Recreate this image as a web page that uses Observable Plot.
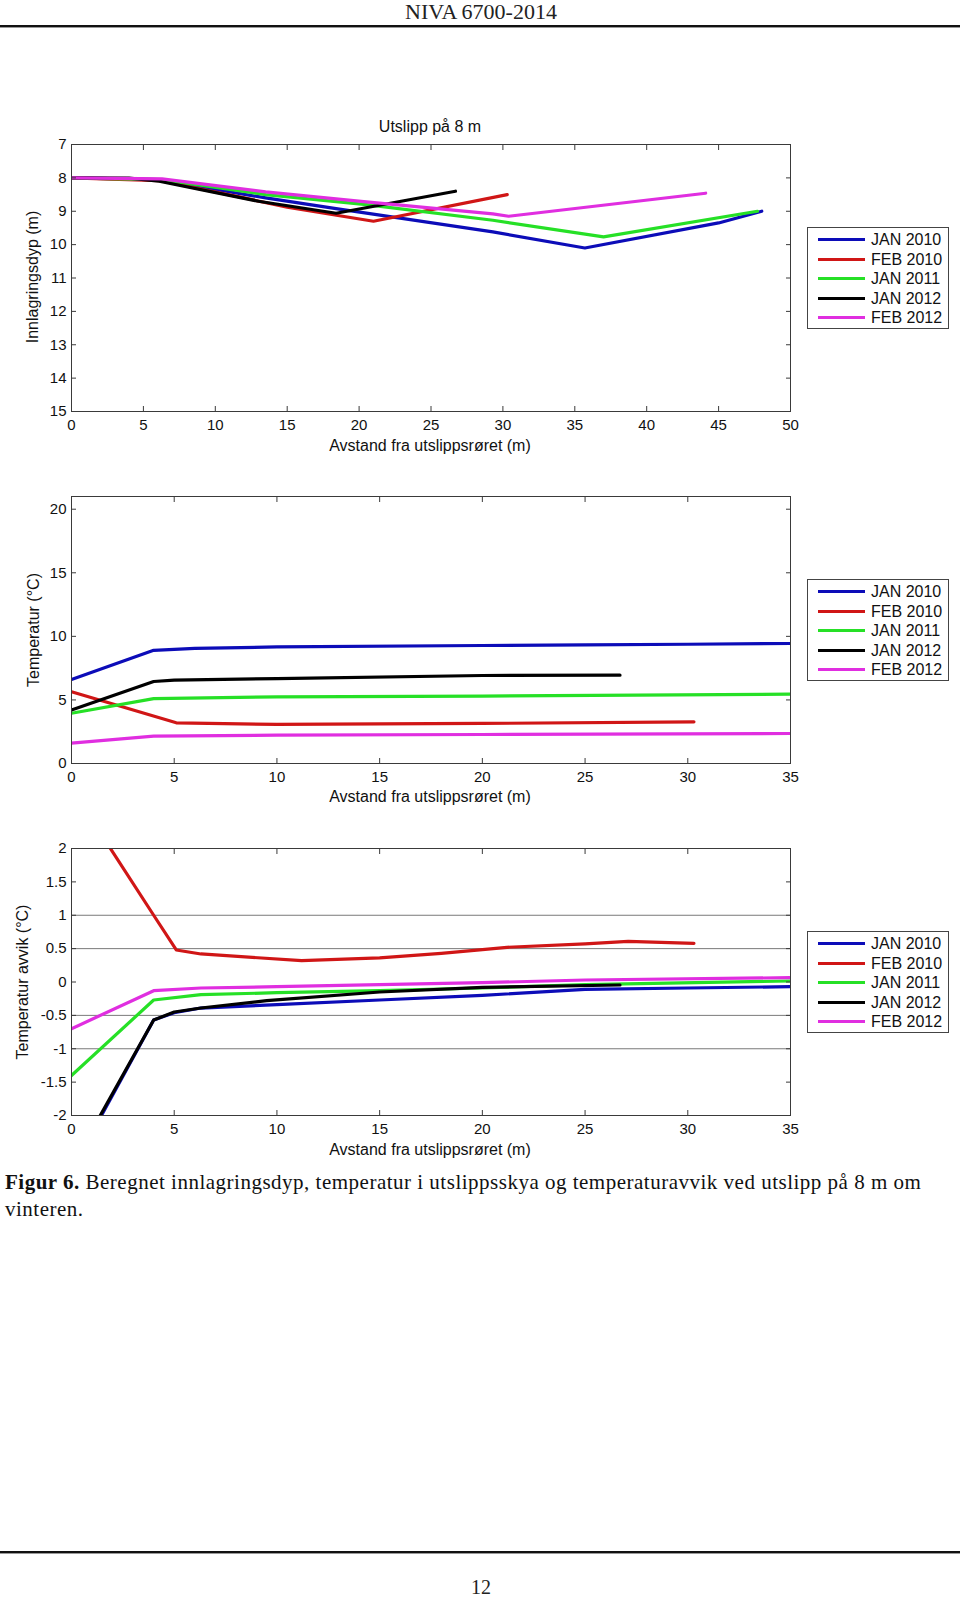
<!DOCTYPE html>
<html>
<head>
<meta charset="utf-8">
<script src="https://cdn.jsdelivr.net/npm/d3@7"></script>
<script src="https://cdn.jsdelivr.net/npm/@observablehq/plot@0.6"></script>
<style>
  html, body { margin: 0; padding: 0; background: #fff; }
  #page { position: relative; width: 960px; height: 1597px; background: #fff; overflow: hidden; }
  .abs { position: absolute; white-space: nowrap; }
  .sans { font-family: "Liberation Sans", Arial, sans-serif; color: #111; }
  .serif { font-family: "Liberation Serif", "Times New Roman", serif; color: #111; }
  .ctr { transform: translate(-50%, -50%); }
  .rot { transform: translate(-50%, -50%) rotate(-90deg); }
  .legend { position: absolute; width: 142px; height: 102px; box-sizing: border-box; border: 1px solid #444; background: #fff; }
  .legend .sw { position: absolute; left: 10px; width: 47px; height: 3px; }
  .legend .lb { position: absolute; left: 63px; font-family: "Liberation Sans", Arial, sans-serif; font-size: 16px; line-height: 19px; color: #111; white-space: nowrap; }
  .svgwrap { position: absolute; left: 0; }
</style>
</head>
<body>
<div id="page"></div>
<script>
// ---------- Data ----------
const seriesNames = ["JAN 2010", "FEB 2010", "JAN 2011", "JAN 2012", "FEB 2012"];
const seriesColors = ["#0c0cb8", "#d01616", "#26e026", "#000000", "#e02ee0"];

// Panel 1: innlagringsdyp (m) vs avstand (m)
const depthJan2010 = [[0, 8], [6, 8.05], [13.5, 8.6], [18.4, 8.92], [29.3, 9.62], [35.7, 10.1], [45, 9.35], [48, 9.0]];
const depthFeb2010 = [[0, 8], [6.1, 8.08], [12, 8.6], [15, 8.88], [21, 9.3], [30.3, 8.5]];
const depthJan2011 = [[0, 8], [6.3, 8.05], [13.5, 8.5], [20.5, 8.8], [29.3, 9.27], [37, 9.77], [47.7, 9.0]];
const depthJan2012 = [[0, 8], [4, 8.01], [6.1, 8.1], [13, 8.7], [18.4, 9.06], [26.7, 8.4]];
const depthFeb2012 = [[0, 8], [6.3, 8.03], [13.5, 8.42], [20.5, 8.72], [29.3, 9.08], [30.4, 9.15], [44.1, 8.46]];

// Panel 2: temperatur (°C) vs avstand (m)
const tempJan2010 = [[0, 6.6], [4, 8.9], [6, 9.05], [10, 9.17], [20, 9.28], [25, 9.33], [30, 9.38], [35, 9.44]];
const tempFeb2010 = [[0, 5.65], [5.1, 3.2], [10, 3.07], [20, 3.15], [30.3, 3.28]];
const tempJan2011 = [[0, 3.95], [4, 5.1], [10, 5.24], [20, 5.3], [35, 5.45]];
const tempJan2012 = [[0, 4.2], [4, 6.45], [5, 6.55], [10, 6.68], [20, 6.92], [26.7, 6.95]];
const tempFeb2012 = [[0, 1.6], [4, 2.15], [10, 2.23], [20, 2.28], [35, 2.36]];

// Panel 3: temperatur avvik (°C) vs avstand (m)
const devJan2010 = [[0, -2.82], [4, -0.57], [5, -0.46], [6.3, -0.39], [10, -0.34], [15, -0.27], [20, -0.2], [25, -0.11], [30, -0.09], [35, -0.07]];
const devFeb2010 = [[0, 2.9], [4, 1.0], [5.1, 0.48], [6.3, 0.42], [11.2, 0.32], [15, 0.36], [18, 0.43], [21.2, 0.52], [25, 0.57], [27.1, 0.61], [30.3, 0.58]];
const devJan2011 = [[0, -1.4], [4, -0.27], [6.3, -0.19], [10, -0.16], [15, -0.13], [20, -0.09], [25, -0.04], [35, 0.015]];
const devJan2012 = [[0, -2.77], [4, -0.57], [5, -0.45], [6.3, -0.39], [9.5, -0.28], [15, -0.15], [20, -0.08], [26.7, -0.045]];
const devFeb2012 = [[0, -0.7], [4, -0.13], [6.3, -0.09], [10, -0.07], [20, -0.01], [25, 0.03], [35, 0.065]];

// Ticks
const xTicks50 = [0, 5, 10, 15, 20, 25, 30, 35, 40, 45, 50];
const xTicks35 = [0, 5, 10, 15, 20, 25, 30, 35];
const yTicksDepth = [7, 8, 9, 10, 11, 12, 13, 14, 15];
const yTicksTemp = [0, 5, 10, 15, 20];
const yTicksDev = [-2, -1.5, -1, -0.5, 0, 0.5, 1, 1.5, 2];
const devGridLines = [-1, -0.5, 0.5, 1];

// Texts
const headerText = "NIVA 6700-2014";
const titleText = "Utslipp på 8 m";
const xLabelText = "Avstand fra utslippsrøret (m)";
const yLabelDepth = "Innlagringsdyp (m)";
const yLabelTemp = "Temperatur (°C)";
const yLabelDev = "Temperatur avvik (°C)";
const captionBold = "Figur 6.";
const captionLine1 = " Beregnet innlagringsdyp, temperatur i utslippsskya og temperaturavvik ved utslipp på 8 m om";
const captionLine2 = "vinteren.";
const pageNumber = "12";

// ---------- Layout ----------
const page = document.getElementById("page");
const W = 960, ML = 71, MR = 170, MT = 20, MB = 43, H = 330;
const axisColor = "#3a3a3a";

function addDiv(cls, text, style) {
  const d = document.createElement("div");
  d.className = cls;
  d.textContent = text;
  Object.assign(d.style, style);
  page.appendChild(d);
  return d;
}

function makePanel({frameTop, xDomain, yDomain, reverse, xTicks, yTicks, grid, data}) {
  const marks = [];
  if (grid) marks.push(Plot.ruleY(grid, {stroke: "#7a7a7a", strokeWidth: 1}));
  data.forEach((arr, i) => {
    marks.push(Plot.line(arr, {x: d => d[0], y: d => d[1], stroke: seriesColors[i], strokeWidth: 3.2, clip: true}));
  });
  marks.push(Plot.frame({stroke: axisColor, strokeWidth: 1}));
  // inward ticks on all four sides
  marks.push(Plot.axisX(xTicks, {anchor: "bottom", tickSize: 5, dy: -5, fill: "none", stroke: axisColor}));
  marks.push(Plot.axisX(xTicks, {anchor: "top", tickSize: 5, dy: 5, fill: "none", stroke: axisColor}));
  marks.push(Plot.axisY(yTicks, {anchor: "left", tickSize: 5, dx: 5, fill: "none", stroke: axisColor}));
  marks.push(Plot.axisY(yTicks, {anchor: "right", tickSize: 5, dx: -5, fill: "none", stroke: axisColor}));
  // tick labels
  marks.push(Plot.axisX(xTicks, {anchor: "bottom", tickSize: 0, tickPadding: 8, label: null, tickFormat: d => String(d), fontSize: 15, fill: "#111"}));
  marks.push(Plot.axisY(yTicks, {anchor: "left", tickSize: 0, tickPadding: 5, label: null, tickFormat: d => String(d), fontSize: 15, fill: "#111"}));

  const svg = Plot.plot({
    width: W, height: H,
    marginLeft: ML, marginRight: MR, marginTop: MT, marginBottom: MB,
    x: {domain: xDomain},
    y: {domain: yDomain, reverse: !!reverse},
    style: {fontSize: "15px", fontFamily: "'Liberation Sans', Arial, sans-serif", background: "transparent", overflow: "visible", color: "#111"},
    marks
  });
  const wrap = document.createElement("div");
  wrap.className = "svgwrap";
  wrap.style.top = (frameTop - MT) + "px";
  wrap.appendChild(svg);
  page.appendChild(wrap);
}

function makeLegend(top) {
  const box = document.createElement("div");
  box.className = "legend";
  box.style.left = "807px";
  box.style.top = top + "px";
  seriesNames.forEach((name, i) => {
    const cy = 11.8 + i * 19.4;
    const sw = document.createElement("div");
    sw.className = "sw";
    sw.style.top = (cy - 1.5) + "px";
    sw.style.background = seriesColors[i];
    box.appendChild(sw);
    const lb = document.createElement("div");
    lb.className = "lb";
    lb.style.top = (cy - 9.5) + "px";
    lb.textContent = name;
    box.appendChild(lb);
  });
  page.appendChild(box);
}

// Header
addDiv("abs serif ctr", headerText, {left: "481px", top: "12px", fontSize: "22px", lineHeight: "22px", color: "#222"});
addDiv("abs", "", {left: "0px", top: "25px", width: "960px", height: "2px", background: "#111"});
addDiv("abs", "", {left: "0px", top: "27px", width: "960px", height: "1px", background: "#999"});

// Panel 1
addDiv("abs sans ctr", titleText, {left: "430px", top: "127px", fontSize: "16px"});
makePanel({frameTop: 144, xDomain: [0, 50], yDomain: [7, 15], reverse: true, xTicks: xTicks50, yTicks: yTicksDepth,
  data: [depthJan2010, depthFeb2010, depthJan2011, depthJan2012, depthFeb2012]});
addDiv("abs sans ctr", xLabelText, {left: "430px", top: "446px", fontSize: "16px"});
addDiv("abs sans rot", yLabelDepth, {left: "33px", top: "277px", fontSize: "16px"});
makeLegend(227);

// Panel 2
makePanel({frameTop: 496, xDomain: [0, 35], yDomain: [0, 21], xTicks: xTicks35, yTicks: yTicksTemp,
  data: [tempJan2010, tempFeb2010, tempJan2011, tempJan2012, tempFeb2012]});
addDiv("abs sans ctr", xLabelText, {left: "430px", top: "797px", fontSize: "16px"});
addDiv("abs sans rot", yLabelTemp, {left: "34px", top: "630px", fontSize: "16px"});
makeLegend(579);

// Panel 3
makePanel({frameTop: 848, xDomain: [0, 35], yDomain: [-2, 2], xTicks: xTicks35, yTicks: yTicksDev, grid: devGridLines,
  data: [devJan2010, devFeb2010, devJan2011, devJan2012, devFeb2012]});
addDiv("abs sans ctr", xLabelText, {left: "430px", top: "1150px", fontSize: "16px"});
addDiv("abs sans rot", yLabelDev, {left: "23px", top: "982px", fontSize: "16px"});
makeLegend(931);

// Caption
const cap = document.createElement("div");
cap.className = "abs serif";
Object.assign(cap.style, {left: "5px", top: "1169px", fontSize: "21px", lineHeight: "27px", letterSpacing: "0.5px", color: "#111"});
const b = document.createElement("b");
b.textContent = captionBold;
cap.appendChild(b);
cap.appendChild(document.createTextNode(captionLine1));
cap.appendChild(document.createElement("br"));
cap.appendChild(document.createTextNode(captionLine2));
page.appendChild(cap);

// Footer
addDiv("abs", "", {left: "0px", top: "1551px", width: "960px", height: "2px", background: "#111"});
addDiv("abs", "", {left: "0px", top: "1553px", width: "960px", height: "1px", background: "#999"});
addDiv("abs serif ctr", pageNumber, {left: "481px", top: "1587px", fontSize: "20px", lineHeight: "20px", color: "#222"});
</script>
</body>
</html>
